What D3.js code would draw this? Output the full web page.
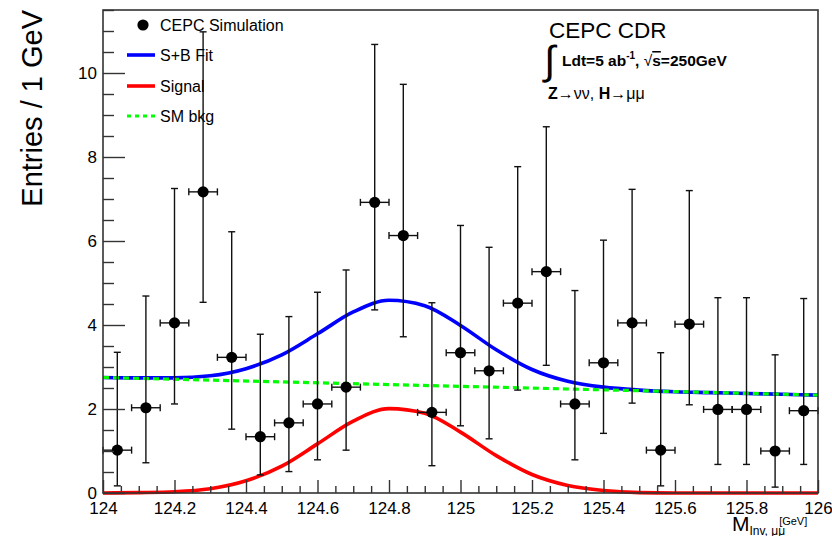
<!DOCTYPE html>
<html>
<head>
<meta charset="utf-8">
<script src="https://cdn.jsdelivr.net/npm/d3@7"></script>
<style>
  html, body { margin: 0; padding: 0; background: #fff; }
  svg { display: block; font-family: "Liberation Sans", Arial, Helvetica, sans-serif; }
</style>
</head>
<body>
<svg id="chart" width="832" height="536"></svg>
<script>
// ---------------- data ----------------
const binCenters = [124.04,124.12,124.20,124.28,124.36,124.44,124.52,124.60,124.68,124.76,
                    124.84,124.92,125.00,125.08,125.16,125.24,125.32,125.40,125.48,125.56,
                    125.64,125.72,125.80,125.88,125.96];
const binHalfWidth = 0.04;
const entries = [1.02,2.03,4.05,7.17,3.23,1.34,1.67,2.12,2.52,6.92,
                 6.13,1.92,3.34,2.91,4.52,5.27,2.12,3.10,4.05,1.02,
                 4.02,1.99,1.99,1.00,1.96];
const errUpperEdge = [3.35,4.69,7.25,10.98,6.22,3.78,4.20,4.78,5.31,10.68,
                      9.73,4.53,6.37,5.85,7.77,8.72,4.82,6.02,7.23,3.34,
                      7.20,4.65,4.65,3.29,4.63];
const errLowerEdge = [0.17,0.72,2.12,4.54,1.52,0.43,0.51,0.79,1.02,4.36,
                      3.72,0.65,1.60,1.29,2.45,3.04,0.79,1.42,2.14,0.17,
                      2.10,0.68,0.68,0.14,0.68];

const curveX = [124.0,124.1,124.2,124.3,124.4,124.5,124.6,124.7,124.8,124.9,
                125.0,125.1,125.2,125.3,125.4,125.5,125.6,125.7,125.8,125.9,126.0];
const fitSB  = [2.75,2.74,2.74,2.79,2.96,3.29,3.79,4.31,4.59,4.46,
                3.99,3.41,2.94,2.66,2.52,2.45,2.41,2.39,2.37,2.35,2.33];
const signal = [0.00,0.01,0.03,0.10,0.29,0.64,1.17,1.71,2.01,1.90,
                1.45,0.89,0.44,0.18,0.06,0.01,0.00,0.00,0.00,0.00,0.00];
const bkgX = [124.0, 126.0];
const bkgY = [2.75, 2.33];

const xTicks = [124,124.2,124.4,124.6,124.8,125,125.2,125.4,125.6,125.8,126];
const yTicks = [0,2,4,6,8,10];
const xDomain = [124, 126];
const yDomain = [0, 11.5];

const legendLabels = ["CEPC Simulation", "S+B Fit", "Signal", "SM bkg"];

// ---------------- layout ----------------
const svg = d3.select("#chart");
const L = 103, R = 818, T = 10, B = 493;
const x = d3.scaleLinear().domain(xDomain).range([L, R]);
const y = d3.scaleLinear().domain(yDomain).range([B, T]);

const FONT = "'Liberation Sans', Arial, Helvetica, sans-serif";

// curves
const line = d3.line().x(d => x(d[0])).y(d => y(d[1])).curve(d3.curveMonotoneX);

svg.append("path")
  .datum(curveX.map((v,i) => [v, signal[i]]))
  .attr("d", line).attr("fill", "none").attr("stroke", "#ff0000").attr("stroke-width", 3.6);

svg.append("path")
  .datum(curveX.map((v,i) => [v, fitSB[i]]))
  .attr("d", line).attr("fill", "none").attr("stroke", "#0000ff").attr("stroke-width", 3.6);

svg.append("path")
  .datum(bkgX.map((v,i) => [v, bkgY[i]]))
  .attr("d", d3.line().x(d => x(d[0])).y(d => y(d[1])))
  .attr("fill", "none").attr("stroke", "#00ff00").attr("stroke-width", 3.2)
  .attr("stroke-dasharray", "6,4");

// data points with error bars
const pts = binCenters.map((c,i) => ({c, v: entries[i], hi: errUpperEdge[i], lo: errLowerEdge[i]}));
const g = svg.append("g").attr("stroke", "#111").attr("stroke-width", 1.4);
const cap = 3.5;
pts.forEach(p => {
  const px = x(p.c), py = y(p.v);
  const yh = y(p.hi), yl = y(p.lo);
  const xl = x(p.c - binHalfWidth), xr = x(p.c + binHalfWidth);
  g.append("line").attr("x1", px).attr("x2", px).attr("y1", yh).attr("y2", yl);
  g.append("line").attr("x1", px-cap).attr("x2", px+cap).attr("y1", yh).attr("y2", yh);
  g.append("line").attr("x1", px-cap).attr("x2", px+cap).attr("y1", yl).attr("y2", yl);
  g.append("line").attr("x1", xl).attr("x2", xr).attr("y1", py).attr("y2", py);
  g.append("line").attr("x1", xl).attr("x2", xl).attr("y1", py-cap).attr("y2", py+cap);
  g.append("line").attr("x1", xr).attr("x2", xr).attr("y1", py-cap).attr("y2", py+cap);
});
svg.append("g").selectAll("circle").data(pts).join("circle")
  .attr("cx", d => x(d.c)).attr("cy", d => y(d.v)).attr("r", 5.6).attr("fill", "#000");

// axes
const xMinor = d3.range(124, 126.0001, 0.05).filter(v => Math.abs(v*5 - Math.round(v*5)) > 1e-6);
const yMinor = d3.range(0, 11.5001, 0.5).filter(v => Math.abs(v/2 - Math.round(v/2)) > 1e-6);

const xAxis = svg.append("g").attr("transform", `translate(0,${B})`)
  .call(d3.axisBottom(x).tickValues(xTicks).tickSizeInner(-13).tickSizeOuter(0).tickPadding(9)
        .tickFormat(d3.format("~g")));
svg.append("g").attr("transform", `translate(0,${B})`)
  .call(d3.axisBottom(x).tickValues(xMinor).tickSizeInner(-7).tickSizeOuter(0).tickFormat(""));
const yAxis = svg.append("g").attr("transform", `translate(${L},0)`)
  .call(d3.axisLeft(y).tickValues(yTicks).tickSizeInner(-22).tickSizeOuter(0).tickPadding(6)
        .tickFormat(d3.format("d")));
svg.append("g").attr("transform", `translate(${L},0)`)
  .call(d3.axisLeft(y).tickValues(yMinor).tickSizeInner(-11).tickSizeOuter(0).tickFormat(""));
svg.selectAll(".domain").remove();
svg.selectAll(".tick line").attr("stroke", "#333").attr("stroke-width", 1.4);
svg.selectAll(".tick text").attr("fill", "#000").style("font-family", FONT).style("font-size", "17px");
xAxis.selectAll(".tick text").attr("dy", "0.72em");

// frame
svg.append("rect").attr("x", L).attr("y", T).attr("width", R-L).attr("height", B-T)
  .attr("fill", "none").attr("stroke", "#333").attr("stroke-width", 1.6);

// axis titles
svg.append("text").attr("transform", `translate(42,${T}) rotate(-90)`)
  .attr("text-anchor", "end").style("font-family", FONT).style("font-size", "29px")
  .text("Entries / 1 GeV");

const xt = svg.append("text").attr("x", 732).attr("y", 531).style("font-family", FONT).style("font-size", "21px");
xt.append("tspan").text("M");
xt.append("tspan").attr("dy", 4).style("font-size", "12px").text("Inv, μμ");
xt.append("tspan").attr("dy", -10).attr("dx", -6).style("font-size", "11px").text("[GeV]");

// legend
const lg = svg.append("g").style("font-family", FONT).style("font-size", "16px");
const rows = [25, 55, 86, 116];
lg.append("circle").attr("cx", 143).attr("cy", rows[0]).attr("r", 5.6).attr("fill", "#000");
lg.append("line").attr("x1", 127).attr("x2", 155).attr("y1", rows[1]).attr("y2", rows[1])
  .attr("stroke", "#0000ff").attr("stroke-width", 3.6);
lg.append("line").attr("x1", 127).attr("x2", 155).attr("y1", rows[2]).attr("y2", rows[2])
  .attr("stroke", "#ff0000").attr("stroke-width", 3.6);
lg.append("line").attr("x1", 127).attr("x2", 155).attr("y1", rows[3]).attr("y2", rows[3])
  .attr("stroke", "#00ff00").attr("stroke-width", 3.2).attr("stroke-dasharray", "4,4");
legendLabels.forEach((t,i) => {
  lg.append("text").attr("x", 160).attr("y", rows[i]).attr("dy", "0.36em").text(t);
});

// annotation
const ann = svg.append("g").style("font-family", FONT);
ann.append("text").attr("x", 549).attr("y", 38).style("font-size", "22.5px").text("CEPC CDR");
ann.append("text").attr("x", 544).attr("y", 74).style("font-size", "40px").style("font-weight", "300").text("∫");
const l2 = ann.append("text").attr("x", 562).attr("y", 66).style("font-size", "15.5px").style("font-weight", "bold");
l2.append("tspan").text("Ldt=5 ab");
l2.append("tspan").attr("dy", -7).style("font-size", "10px").text("-1");
l2.append("tspan").attr("dy", 7).text(", ");
l2.append("tspan").style("font-weight", "normal").text("√");
l2.append("tspan").style("text-decoration", "overline").text("s");
l2.append("tspan").text("=250GeV");
const l3 = ann.append("text").attr("x", 548).attr("y", 99).style("font-size", "16px");
l3.append("tspan").style("font-weight", "bold").text("Z");
l3.append("tspan").text("→νν, ");
l3.append("tspan").style("font-weight", "bold").text("H");
l3.append("tspan").text("→μμ");
</script>
</body>
</html>
